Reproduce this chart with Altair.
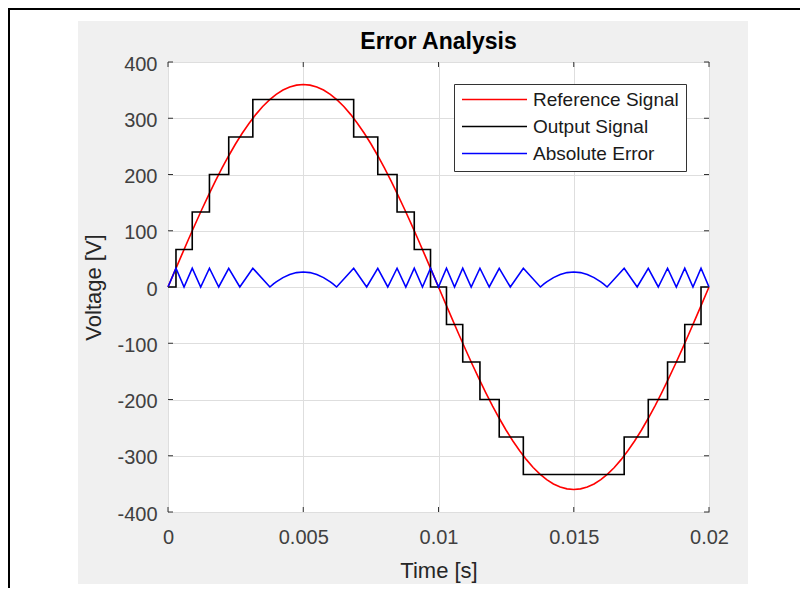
import altair as alt
import pandas as pd

# ---------------- data ----------------
chart_title = "Error Analysis"
series_names = ["Reference Signal", "Output Signal", "Absolute Error"]
series_colors = ["#FF0000", "#000000", "#0000FF"]

t_ref = [
    0.0, 0.00025, 0.0005, 0.00075, 0.001, 0.00125, 0.0015, 0.00175, 0.002, 0.00225,
    0.0025, 0.00275, 0.003, 0.00325, 0.0035, 0.00375, 0.004, 0.00425, 0.0045, 0.00475,
    0.005, 0.00525, 0.0055, 0.00575, 0.006, 0.00625, 0.0065, 0.00675, 0.007, 0.00725,
    0.0075, 0.00775, 0.008, 0.00825, 0.0085, 0.00875, 0.009, 0.00925, 0.0095, 0.00975,
    0.01, 0.01025, 0.0105, 0.01075, 0.011, 0.01125, 0.0115, 0.01175, 0.012, 0.01225,
    0.0125, 0.01275, 0.013, 0.01325, 0.0135, 0.01375, 0.014, 0.01425, 0.0145, 0.01475,
    0.015, 0.01525, 0.0155, 0.01575, 0.016, 0.01625, 0.0165, 0.01675, 0.017, 0.01725,
    0.0175, 0.01775, 0.018, 0.01825, 0.0185, 0.01875, 0.019, 0.01925, 0.0195, 0.01975,
    0.02,
]
v_ref = [
    0, 28.2, 56.3, 84.0, 111.2, 137.8, 163.4, 188.1, 211.6, 233.8,
    254.6, 273.7, 291.2, 306.9, 320.8, 332.6, 342.4, 350.1, 355.6, 358.9,
    360.0, 358.9, 355.6, 350.1, 342.4, 332.6, 320.8, 306.9, 291.2, 273.7,
    254.6, 233.8, 211.6, 188.1, 163.4, 137.8, 111.2, 84.0, 56.3, 28.2,
    0, -28.2, -56.3, -84.0, -111.2, -137.8, -163.4, -188.1, -211.6, -233.8,
    -254.6, -273.7, -291.2, -306.9, -320.8, -332.6, -342.4, -350.1, -355.6, -358.9,
    -360.0, -358.9, -355.6, -350.1, -342.4, -332.6, -320.8, -306.9, -291.2, -273.7,
    -254.6, -233.8, -211.6, -188.1, -163.4, -137.8, -111.2, -84.0, -56.3, -28.2,
    0,
]

t_out = [0.0, 0.000295, 0.000896, 0.001532, 0.002245, 0.003136, 0.006864, 0.007755,
         0.008468, 0.009104, 0.009705, 0.010295, 0.010896, 0.011532, 0.012245, 0.013136,
         0.016864, 0.017755, 0.018468, 0.019104, 0.019705, 0.02]
v_out = [0, 66.7, 133.3, 200, 266.7, 333.3, 266.7, 200,
         133.3, 66.7, 0, -66.7, -133.3, -200, -266.7, -333.3,
         -266.7, -200, -133.3, -66.7, 0, 0]

t_err = [
    0.0, 0.000295, 0.000593, 0.000896, 0.001208, 0.001532, 0.001875, 0.002245,
    0.002655, 0.003136, 0.003767, 0.0039, 0.004, 0.00425, 0.0045, 0.00475,
    0.005, 0.00525, 0.0055, 0.00575, 0.006, 0.0061, 0.006233, 0.006864,
    0.007345, 0.007755, 0.008125, 0.008468, 0.008792, 0.009104, 0.009407, 0.009705,
    0.01, 0.010295, 0.010593, 0.010896, 0.011208, 0.011532, 0.011875, 0.012245,
    0.012655, 0.013136, 0.013767, 0.0139, 0.014, 0.01425, 0.0145, 0.01475,
    0.015, 0.01525, 0.0155, 0.01575, 0.016, 0.0161, 0.016233, 0.016864,
    0.017345, 0.017755, 0.018125, 0.018468, 0.018792, 0.019104, 0.019407, 0.019705,
    0.02,
]
v_err = [
    0, 33.3, 0, 33.3, 0, 33.3, 0, 33.3,
    0, 33.3, 0, 5.4, 9.1, 16.7, 22.2, 25.6,
    26.7, 25.6, 22.2, 16.7, 9.1, 5.4, 0, 33.3,
    0, 33.3, 0, 33.3, 0, 33.3, 0, 33.3,
    0, 33.3, 0, 33.3, 0, 33.3, 0, 33.3,
    0, 33.3, 0, 5.4, 9.1, 16.7, 22.2, 25.6,
    26.7, 25.6, 22.2, 16.7, 9.1, 5.4, 0, 33.3,
    0, 33.3, 0, 33.3, 0, 33.3, 0, 33.3,
    0,
]

x_ticks = [0, 0.005, 0.01, 0.015, 0.02]
y_ticks = [-400, -300, -200, -100, 0, 100, 200, 300, 400]

# ---------------- styling ----------------
W, H = 541, 450
PAD_L, PAD_T, PAD_R, PAD_B = 160, 54, 91, 76
FONT = "Liberation Sans, Arial, Helvetica, sans-serif"
BOX = "#333333"
GRID = "#DEDEDE"
TXT = "#404040"

ref_df = pd.DataFrame({"t": t_ref, "v": v_ref, "series": series_names[0]})
out_df = pd.DataFrame({"t": t_out, "v": v_out, "series": series_names[1]})
err_df = pd.DataFrame({"t": t_err, "v": v_err, "series": series_names[2]})

xscale = alt.Scale(domain=[0, 0.02], nice=False, zero=False)
yscale = alt.Scale(domain=[-400, 400], nice=False, zero=False)

xaxis = alt.Axis(values=x_ticks, labelExpr="datum.value + ''", grid=True, gridColor=GRID,
                 ticks=False, tickSize=0, domain=False, labelFlush=False, labelOverlap=False,
                 labelFontSize=20, labelFont=FONT, labelColor=TXT, labelPadding=15,
                 titleFontSize=22, titleFont=FONT, titleColor="#262626", titleFontWeight="normal",
                 titleY=58, titleBaseline="middle")
yaxis = alt.Axis(values=y_ticks, labelExpr="datum.value + ''", grid=True, gridColor=GRID,
                 ticks=False, tickSize=0, domain=False, labelOverlap=False,
                 labelFontSize=20, labelFont=FONT, labelColor=TXT, labelPadding=11, labelOffset=2,
                 titleFontSize=22, titleFont=FONT, titleColor="#262626", titleFontWeight="normal",
                 titleX=-75, titleBaseline="middle")

X = alt.X("t:Q", scale=xscale, axis=xaxis, title="Time [s]")
Y = alt.Y("v:Q", scale=yscale, axis=yaxis, title="Voltage [V]")

color = alt.Color(
    "series:N",
    scale=alt.Scale(domain=series_names, range=series_colors),
    legend=alt.Legend(
        title=None, orient="none", legendX=286, legendY=22,
        fillColor="white", strokeColor=BOX, padding=7,
        symbolType="stroke", symbolSize=4225, symbolStrokeWidth=1.5,
        clipHeight=17, rowPadding=7, labelOffset=5, labelLimit=400,
        labelFontSize=19, labelFont=FONT, labelColor="#1a1a1a",
    ),
)

ref_line = alt.Chart(ref_df).mark_line(strokeWidth=1.6).encode(x=X, y=Y, color=color)
out_line = alt.Chart(out_df).mark_line(strokeWidth=1.6, interpolate="step-after").encode(x=X, y=Y, color=color)
err_line = alt.Chart(err_df).mark_line(strokeWidth=1.6).encode(x=X, y=Y, color=color)

# inward tick marks (MATLAB style, on all four sides)
xt = pd.DataFrame({"t": x_ticks})
yt = pd.DataFrame({"v": y_ticks})
tick_b = alt.Chart(xt).mark_rule(color=BOX, strokeWidth=1).encode(x=X, y=alt.value(H), y2=alt.value(H - 5))
tick_t = alt.Chart(xt).mark_rule(color=BOX, strokeWidth=1).encode(x=X, y=alt.value(0), y2=alt.value(5))
tick_l = alt.Chart(yt).mark_rule(color=BOX, strokeWidth=1).encode(y=Y, x=alt.value(0), x2=alt.value(5))
tick_r = alt.Chart(yt).mark_rule(color=BOX, strokeWidth=1).encode(y=Y, x=alt.value(W), x2=alt.value(W - 5))

# figure decoration: white margins around the grey figure and the outer black frame
one = pd.DataFrame({"k": [0]})
L0, T0 = -PAD_L, -PAD_T
R1, B1 = W + PAD_R, H + PAD_B


def deco(x1, x2, y1, y2, col):
    return alt.Chart(one).mark_rect(color=col, strokeWidth=0).encode(
        x=alt.value(x1), x2=alt.value(x2), y=alt.value(y1), y2=alt.value(y2))


decor = [
    deco(L0, -90, T0, B1, "white"),
    deco(L0, R1, T0, -41, "white"),
    deco(580, R1, T0, B1, "white"),
    deco(L0, R1, 522, B1, "white"),
    deco(L0, R1, T0, T0 + 2, "black"),
    deco(L0, L0 + 2, T0, B1, "black"),
]

title_df = pd.DataFrame({"label": [chart_title]})
title_mark = alt.Chart(title_df).mark_text(
    font=FONT, fontSize=23, fontWeight="bold", color="#000000",
    align="center", baseline="alphabetic",
).encode(text="label:N", x=alt.value(W / 2), y=alt.value(-13))

chart = alt.layer(
    *decor, ref_line, out_line, err_line, tick_b, tick_t, tick_l, tick_r, title_mark
).properties(
    width=W, height=H,
    padding={"left": PAD_L, "top": PAD_T, "right": PAD_R, "bottom": PAD_B},
    autosize=alt.AutoSizeParams(type="none"),
    background="#F0F0F0",
).configure_view(fill="white", stroke=BOX, strokeWidth=1)

chart.save("out.html", embed_options={"renderer": "svg", "actions": False})
